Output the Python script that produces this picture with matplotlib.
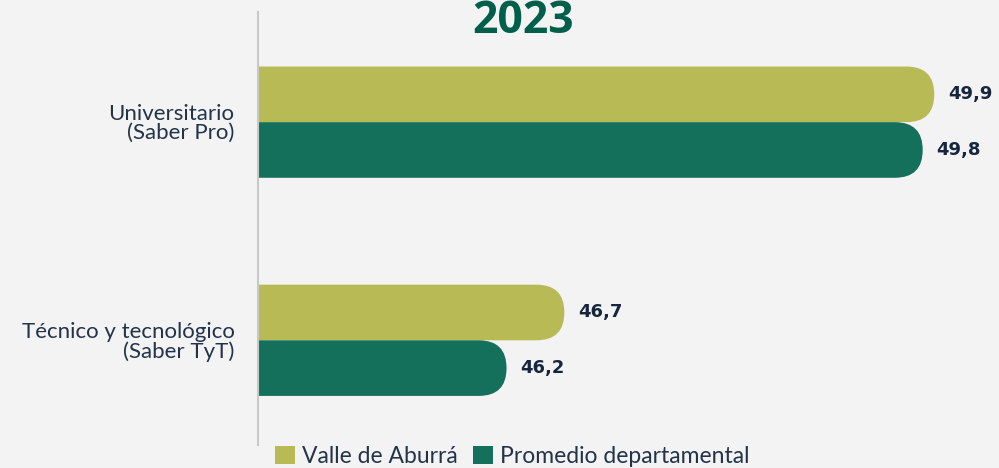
import matplotlib
matplotlib.use("Agg")
import matplotlib.pyplot as plt
from matplotlib.patches import FancyBboxPatch, Patch
import numpy as np

categories = ["Universitario\n(Saber Pro)", "Técnico y tecnológico\n(Saber TyT)"]
series_names = ["Valle de Aburrá", "Promedio departamental"]
valle = [49.9, 46.7]
promedio = [49.8, 46.2]
value_labels_valle = ["49,9", "46,7"]
value_labels_prom = ["49,8", "46,2"]
title = "2023"

c_valle = "#b8bb55"
c_prom = "#14705a"
c_text = "#22334a"
c_val = "#16263f"

W, H = 999, 468
fig = plt.figure(figsize=(W/100, H/100), dpi=100)
fig.patch.set_facecolor("#f3f3f3")

ax_left, ax_right = 258/W, 1.0
ax_top, ax_bot = 1 - 12/H, 1 - 445/H
ax = fig.add_axes([ax_left, ax_bot, ax_right - ax_left, ax_top - ax_bot])
ax.set_facecolor("none")

xmin, xmax = 44.05, 50.46
ax.set_xlim(xmin, xmax)
ax.set_ylim(1.48, -0.505)

h = 0.255
y = np.arange(len(categories))
ax_w_px = (ax_right - ax_left) * W
ax_h_px = (ax_top - ax_bot) * H
px_x = (xmax - xmin) / ax_w_px
px_y = (1.48 + 0.505) / ax_h_px

def rounded_bars(ys, vals, color):
    bars = ax.barh(ys, np.array(vals) - xmin, left=xmin, height=h, color=color)
    for b in bars:
        b.set_visible(False)
        x0, y0 = b.get_x(), b.get_y()
        w, hh = b.get_width(), b.get_height()
        r_px = hh / px_y / 2
        rx = r_px * px_x
        p = FancyBboxPatch((x0 - 2*rx, y0), w + 2*rx, hh,
                           boxstyle=f"round,pad=0,rounding_size={rx}",
                           mutation_aspect=(hh/2)/rx,
                           facecolor=color, edgecolor="none", clip_on=True)
        ax.add_patch(p)
        p.set_clip_path(ax.patch)
    return bars

rounded_bars(y - h/2, valle, c_valle)
rounded_bars(y + h/2, promedio, c_prom)

for yi, v, lab in zip(y - h/2, valle, value_labels_valle):
    ax.annotate(lab, (v, yi), xytext=(10, 0), textcoords="offset points",
                ha="left", va="center", fontsize=13, fontweight="bold",
                color=c_val, family="DejaVu Sans")
for yi, v, lab in zip(y + h/2, promedio, value_labels_prom):
    ax.annotate(lab, (v, yi), xytext=(10, 0), textcoords="offset points",
                ha="left", va="center", fontsize=13, fontweight="bold",
                color=c_val, family="DejaVu Sans")

ax.set_yticks(y)
ax.set_yticklabels(categories, fontsize=16, color=c_text, family="Lato",
                   ha="right", linespacing=0.95)
ax.tick_params(axis="y", length=0, pad=17)
ax.set_xticks([])
for s in ["top", "right", "bottom"]:
    ax.spines[s].set_visible(False)
ax.spines["left"].set_color("#c8c8c8")
ax.spines["left"].set_linewidth(1.5)

fig.text(523/W, 1 - 33/H, title, ha="center", va="baseline", fontsize=32,
         fontweight="bold", color="#005f4b", family="Open Sans")

handles = [Patch(facecolor=c_valle), Patch(facecolor=c_prom)]
fig.legend(handles, series_names, loc="lower left", bbox_to_anchor=(266/W, -0.018),
           ncol=2, frameon=False, handlelength=0.85, handleheight=0.85,
           handletextpad=0.3, columnspacing=0.7, borderaxespad=0,
           prop={"family": "Lato", "size": 16.5}, labelcolor=c_text)

fig.savefig("out.png", dpi=100, facecolor=fig.get_facecolor())
